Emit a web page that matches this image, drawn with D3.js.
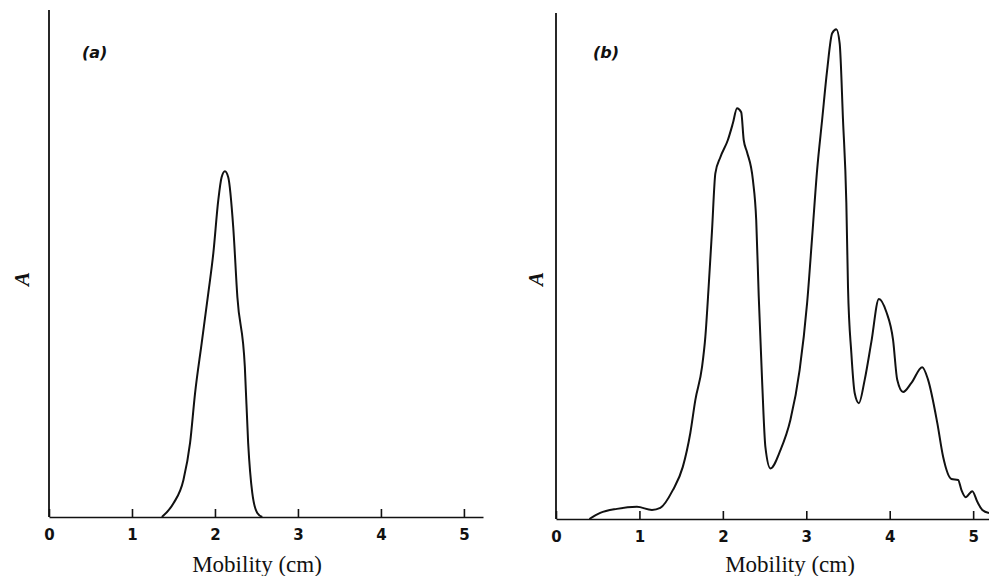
<!DOCTYPE html>
<html>
<head>
<meta charset="utf-8">
<script src="https://cdn.jsdelivr.net/npm/d3@7"></script>
<style>
  html, body { margin: 0; padding: 0; background: #fff; }
  svg { display: block; }
</style>
</head>
<body>
<svg id="chart" width="989" height="576"></svg>
<script>
// mobility (cm) and absorbance A (arbitrary units, 0-100)
const tickValues = [0, 1, 2, 3, 4, 5];

const mobilityA = [1.36, 1.50, 1.62, 1.70, 1.76, 1.84, 1.92, 1.98, 2.04, 2.08, 2.12, 2.16, 2.22, 2.27, 2.36, 2.40, 2.45, 2.51, 2.57];
const absorbA   = [0,    2.7,  7.3,  14.6, 24.4, 34.3, 44.2, 52.0, 62.5, 67.0, 68.2, 67.0, 57.2, 43.4, 29.6, 14.6, 4.7,  0.8,  0];

const mobilityB = [0.40, 0.53, 0.73, 0.97, 1.15, 1.25, 1.40, 1.52, 1.61, 1.67, 1.75, 1.79, 1.83, 1.87, 1.91, 1.97,
                   2.06, 2.12, 2.17, 2.22, 2.25, 2.29, 2.36, 2.40, 2.43, 2.47, 2.51, 2.57, 2.69, 2.81, 2.92, 3.01,
                   3.07, 3.13, 3.19, 3.25, 3.31, 3.36, 3.40, 3.44, 3.48, 3.50, 3.54, 3.58, 3.63, 3.70, 3.78, 3.87,
                   3.96, 4.04, 4.09, 4.16, 4.26, 4.39, 4.46, 4.57, 4.64, 4.74, 4.82, 4.86, 4.91, 4.99, 5.05, 5.11, 5.19];
const absorbB   = [0,    1.2,  2.0,  2.4,  1.8,  2.2,  5.7,  10.3, 17.0, 23.5, 30.0, 36.0, 46.0, 57.0, 68.3, 71.5,
                   74.9, 78.2, 81.2, 80.4, 74.9, 72.5, 67.0, 59.0, 44.0, 27.5, 14.2, 10.0, 13.6, 19.6, 29.4, 42.7,
                   55.7, 69.0, 78.9, 88.7, 96.0, 96.8, 94.0, 78.9, 62.5, 45.8, 32.8, 24.9, 22.9, 27.5, 35.0, 43.5,
                   40.9, 35.4, 27.5, 25.1, 26.9, 30.0, 27.5, 19.0, 12.3, 7.9,  7.7,  5.7,  4.3,  5.5,  3.4,  1.8,  1.2];

const panels = [
  { tag: "(a)", xs: mobilityA, ys: absorbA, x0: 49,  x1: 483, xMax: 5.23, yTop: 10, yBase: 517, tagX: 82,  aX: 22,  titleX: 257 },
  { tag: "(b)", xs: mobilityB, ys: absorbB, x0: 556, x1: 989, xMax: 5.19, yTop: 13, yBase: 519, tagX: 593, aX: 536, titleX: 790 }
];

const svg = d3.select("#chart");

panels.forEach(p => {
  const x = d3.scaleLinear().domain([0, p.xMax]).range([p.x0, p.x1]);
  const y = d3.scaleLinear().domain([0, 100]).range([p.yBase, p.yTop]);
  const g = svg.append("g");

  // x axis, ticks pointing up into the plot
  const ax = g.append("g")
    .attr("transform", `translate(0,${p.yBase})`)
    .call(d3.axisBottom(x).tickValues(tickValues).tickSizeInner(-8).tickSizeOuter(0).tickPadding(12).tickFormat(d3.format("d")));
  ax.select(".domain").attr("stroke", "#111").attr("stroke-width", 1.6);
  ax.selectAll(".tick line").attr("stroke", "#111").attr("stroke-width", 1.6);
  ax.selectAll(".tick text")
    .attr("fill", "#111")
    .style("font", "bold 15px 'DejaVu Sans', sans-serif");

  // y axis: plain line, no ticks
  g.append("line")
    .attr("x1", p.x0).attr("x2", p.x0)
    .attr("y1", p.yTop).attr("y2", p.yBase)
    .attr("stroke", "#111").attr("stroke-width", 1.8);

  const line = d3.line()
    .x((d, i) => x(p.xs[i]))
    .y(d => y(d))
    .curve(d3.curveMonotoneX);

  g.append("path")
    .datum(p.ys)
    .attr("d", line)
    .attr("fill", "none")
    .attr("stroke", "#111")
    .attr("stroke-width", 2)
    .attr("stroke-linejoin", "round");

  g.append("text")
    .attr("x", p.tagX).attr("y", 58)
    .style("font", "italic bold 16px 'DejaVu Sans', sans-serif")
    .attr("fill", "#111")
    .text(p.tag);

  g.append("text")
    .attr("transform", `translate(${p.aX + 7},279) rotate(-90)`)
    .attr("text-anchor", "middle")
    .style("font", "italic bold 21px 'Liberation Serif', serif")
    .attr("fill", "#111")
    .text("A");

  g.append("text")
    .attr("x", p.titleX).attr("y", 572)
    .attr("text-anchor", "middle")
    .style("font", "23px 'Liberation Serif', serif")
    .attr("fill", "#111")
    .text("Mobility (cm)");
});
</script>
</body>
</html>
